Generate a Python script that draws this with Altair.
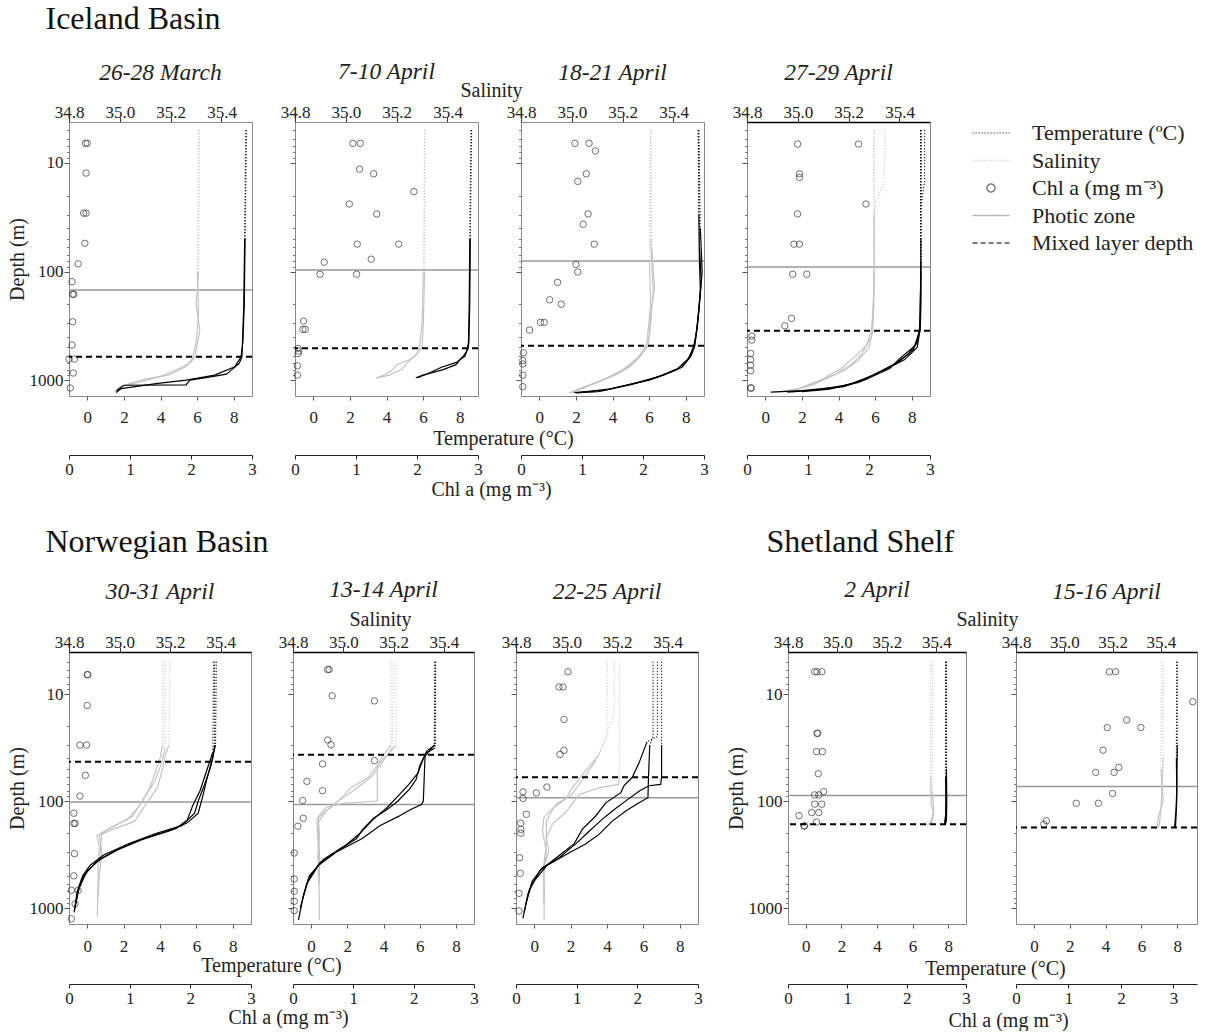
import altair as alt
import pandas as pd

FONT = "Liberation Serif"

# ---------------- data ----------------
PANEL_TITLES = ["26-28 March", "7-10 April", "18-21 April", "27-29 April",
                "30-31 April", "13-14 April", "22-25 April", "2 April", "15-16 April"]
PHOTIC = [148, 97, 80, 91, 102, 108, 93, 89, 73]
MLD = [610, 510, 483, 351, 43, 37, 60, 165, 177]

TEMP_TICKS = [0, 2, 4, 6, 8]
SAL_TICKS = [34.8, 35.0, 35.2, 35.4]
CHL_TICKS = [0, 1, 2, 3]
DEPTH_MAJOR = [10, 100, 1000]
DEPTH_MINOR = [5, 6, 7, 8, 9, 20, 30, 40, 50, 60, 70, 80, 90,
               200, 300, 400, 500, 600, 700, 800, 900]
LEGEND_ITEMS = ["Temperature (ºC)", "Salinity", "Chl a (mg m⁻³)", "Photic zone", "Mixed layer depth"]

# temperature casts: (depth m, temperature degC)
T1 = [[(5, 8.7), (50, 8.62), (200, 8.58), (450, 8.5), (610, 8.4), (754, 8.06), (900, 6.96),
       (1000, 5.41), (1072, 3.86), (1195, 1.85), (1300, 1.58)],
      [(5, 8.66), (50, 8.6), (200, 8.55), (450, 8.48), (610, 8.45), (700, 8.3), (800, 7.9),
       (880, 7.6), (950, 6.5), (1000, 5.6), (1105, 5.4), (1115, 2.0), (1250, 1.6)]]
T2 = [[(5, 8.65), (50, 8.58), (200, 8.55), (450, 8.5), (520, 8.45), (600, 8.2), (680, 7.9),
       (760, 7.0), (850, 6.4), (950, 5.7)],
      [(5, 8.62), (50, 8.55), (200, 8.52), (450, 8.48), (520, 8.4), (600, 8.3), (650, 8.0),
       (720, 7.8), (800, 7.1), (900, 6.0), (950, 5.6)]]
T3 = [[(5, 8.7), (30, 8.72), (80, 8.75), (150, 8.8), (300, 8.65), (480, 8.5), (600, 8.3),
       (760, 7.8), (900, 6.8), (1050, 5.4), (1200, 3.9), (1300, 2.1)],
      [(5, 8.72), (40, 8.8), (100, 8.9), (200, 8.75), (350, 8.6), (480, 8.45), (620, 8.2),
       (780, 7.6), (950, 6.4), (1100, 5.0), (1250, 3.5), (1300, 1.9)],
      [(5, 8.68), (60, 8.75), (120, 8.85), (250, 8.7), (400, 8.55), (500, 8.45), (650, 8.1),
       (800, 7.5), (1000, 6.0), (1150, 4.4), (1280, 3.2), (1310, 2.0)]]
T4 = [[(5, 8.5), (50, 8.5), (200, 8.5), (350, 8.45), (500, 8.3), (650, 7.6), (800, 6.5),
       (950, 5.6), (1150, 4.3), (1250, 2.0), (1290, 0.3)],
      [(5, 8.7), (15, 8.7), (25, 8.5), (100, 8.5), (350, 8.45), (480, 8.2), (620, 7.4),
       (780, 6.8), (1000, 5.4), (1200, 3.6), (1280, 1.5)],
      [(5, 8.5), (80, 8.5), (300, 8.48), (450, 8.3), (580, 7.8), (720, 7.0), (900, 5.9),
       (1100, 4.6), (1230, 2.8), (1290, 1.2)],
      [(5, 8.5), (150, 8.48), (350, 8.44), (520, 8.1), (700, 7.2), (850, 6.2), (1050, 5.1),
       (1220, 3.4), (1280, 2.0)]]
T5 = [[(5, 7.0), (30, 7.0), (40, 6.9), (50, 6.75), (70, 6.45), (100, 6.1), (130, 5.9), (170, 5.2),
       (200, 3.8), (250, 2.3), (320, 0.9), (400, 0.15), (500, -0.25), (700, -0.55), (1100, -0.72)],
      [(5, 7.1), (30, 7.05), (45, 6.8), (60, 6.6), (90, 6.35), (130, 6.1), (160, 5.5), (190, 4.5),
       (230, 3.0), (290, 1.6), (370, 0.5), (500, -0.2), (700, -0.5), (1050, -0.7)],
      [(5, 6.95), (35, 6.9), (50, 6.6), (80, 6.2), (110, 5.8), (150, 5.5), (180, 4.9), (210, 3.6),
       (260, 2.1), (340, 0.8), (450, 0.0), (650, -0.45), (1000, -0.68)]]
T6 = [[(5, 6.85), (30, 6.85), (34, 6.4), (47, 6.0), (63, 5.8), (77, 5.45), (100, 4.8), (120, 4.2),
       (145, 3.45), (180, 2.9), (225, 2.5), (280, 1.6), (375, 0.5), (540, -0.15), (760, -0.42),
       (1300, -0.7)],
      [(5, 6.88), (32, 6.85), (36, 6.3), (60, 6.25), (100, 6.2), (108, 6.1), (120, 5.5), (140, 4.8),
       (170, 3.8), (225, 2.8), (300, 1.4), (400, 0.4), (600, -0.25), (1000, -0.6)],
      [(5, 6.85), (30, 6.8), (40, 6.2), (55, 5.9), (70, 5.4), (90, 4.8), (115, 4.2), (150, 3.4),
       (200, 2.7), (260, 1.9), (350, 0.7), (500, -0.1), (800, -0.45)]]
T7 = [[(5, 7.0), (30, 7.0), (60, 7.0), (70, 6.95), (72, 6.3), (80, 5.8), (95, 5.2), (120, 4.4),
       (150, 3.7), (200, 2.9), (250, 2.3), (340, 1.35), (420, 0.45), (560, -0.1), (780, -0.37),
       (1250, -0.62)],
      [(5, 6.53), (25, 6.53), (30, 6.35), (60, 6.28), (93, 6.25), (104, 5.76), (124, 5.03),
       (154, 4.29), (205, 3.56), (254, 2.8), (300, 2.0), (400, 0.7), (600, -0.15), (900, -0.45)],
      [(5, 6.77), (25, 6.77), (28, 6.2), (44, 5.76), (60, 5.39), (72, 4.93), (84, 4.75), (104, 3.93),
       (138, 3.38), (184, 2.64), (250, 2.2), (330, 1.3), (450, 0.3), (700, -0.3), (1100, -0.55)]]
T8 = [[(5, 7.9), (50, 7.9), (100, 7.92), (150, 7.9), (165, 7.85)],
      [(5, 7.85), (60, 7.85), (120, 7.88), (160, 7.82), (168, 7.8)],
      [(5, 7.88), (80, 7.9), (140, 7.85), (165, 7.8)]]
T9 = [[(5, 8.0), (30, 8.0), (60, 7.98), (100, 7.97), (150, 7.92), (177, 7.9)],
      [(5, 7.97), (40, 7.95), (80, 7.97), (120, 7.93), (175, 7.85)]]

# salinity casts: (depth m, salinity)
S1 = [[(5, 35.313), (100, 35.31), (200, 35.30), (350, 35.315), (610, 35.295), (680, 35.28),
       (770, 35.24), (925, 35.16), (1040, 35.08), (1150, 35.0), (1280, 34.98)],
      [(5, 35.31), (100, 35.305), (250, 35.31), (450, 35.30), (640, 35.285), (754, 35.26),
       (900, 35.19), (980, 35.10), (1072, 35.04), (1195, 34.99)]]
S2 = [[(5, 35.31), (100, 35.31), (300, 35.305), (500, 35.30), (600, 35.27), (700, 35.24),
       (800, 35.22), (900, 35.17), (960, 35.12)],
      [(5, 35.31), (100, 35.305), (300, 35.30), (500, 35.29), (580, 35.28), (650, 35.25),
       (720, 35.20), (820, 35.18), (900, 35.15), (950, 35.12)]]
S3 = [[(5, 35.31), (50, 35.31), (150, 35.32), (300, 35.31), (480, 35.30), (600, 35.27),
       (750, 35.23), (900, 35.17), (1050, 35.10), (1200, 35.03), (1300, 35.0)],
      [(5, 35.31), (60, 35.315), (140, 35.325), (250, 35.31), (400, 35.305), (550, 35.28),
       (700, 35.24), (850, 35.19), (1000, 35.12), (1150, 35.05), (1290, 35.0)],
      [(5, 35.31), (80, 35.305), (200, 35.31), (350, 35.30), (480, 35.295), (620, 35.26),
       (800, 35.20), (950, 35.14), (1100, 35.08), (1250, 35.02), (1310, 34.99)]]
S4 = [[(5, 35.30), (100, 35.30), (350, 35.295), (500, 35.28), (650, 35.24), (800, 35.19),
       (950, 35.12), (1150, 35.03), (1280, 34.95)],
      [(5, 35.343), (15, 35.34), (22, 35.31), (30, 35.30), (150, 35.30), (350, 35.29), (480, 35.27),
       (620, 35.22), (780, 35.17), (1000, 35.09), (1200, 35.0), (1290, 34.92)],
      [(5, 35.30), (200, 35.30), (400, 35.29), (580, 35.25), (720, 35.21), (900, 35.14),
       (1100, 35.06), (1270, 34.97)]]
S5 = [[(5, 35.17), (30, 35.17), (40, 35.16), (55, 35.14), (75, 35.12), (110, 35.08), (150, 35.03),
       (180, 34.96), (210, 34.91), (270, 34.92), (400, 34.915), (600, 34.915), (1200, 34.912)],
      [(5, 35.20), (30, 35.195), (38, 35.18), (50, 35.17), (75, 35.15), (110, 35.10), (155, 35.06),
       (185, 34.97), (210, 34.92), (300, 34.93), (500, 34.92), (800, 34.915)],
      [(5, 35.18), (32, 35.18), (45, 35.165), (65, 35.14), (100, 35.09), (140, 35.05), (170, 34.98),
       (200, 34.93), (260, 34.925), (380, 34.92)]]
S6 = [[(5, 35.21), (30, 35.21), (36, 35.18), (45, 35.14), (60, 35.10), (75, 35.03), (90, 35.0),
       (110, 34.96), (130, 34.92), (150, 34.895), (250, 34.90), (400, 34.90), (800, 34.905),
       (1300, 34.905)],
      [(5, 35.19), (30, 35.19), (40, 35.15), (48, 35.135), (100, 35.135), (105, 35.0), (115, 34.93),
       (140, 34.90), (200, 34.905), (350, 34.90)],
      [(5, 35.20), (32, 35.195), (42, 35.16), (60, 35.11), (80, 35.04), (100, 34.98), (125, 34.93),
       (160, 34.90), (300, 34.905), (600, 34.905)]]
S7 = [[(5, 35.209), (60, 35.209), (70, 35.205), (75, 35.13), (87, 35.05), (124, 35.0), (165, 34.944),
       (220, 34.92), (300, 34.93), (400, 34.91), (700, 34.912), (1300, 34.911)],
      [(5, 35.161), (25, 35.16), (37, 35.128), (52, 35.076), (75, 35.023), (93, 35.0), (107, 34.96),
       (143, 34.91), (190, 34.905), (300, 34.92), (500, 34.91), (900, 34.91)],
      [(5, 35.188), (15, 35.188), (20, 35.17), (27, 35.15), (42, 35.115), (65, 35.06), (87, 35.02),
       (115, 34.95), (154, 34.92), (250, 34.92), (400, 34.91)]]
S8 = [[(5, 35.376), (60, 35.377), (110, 35.38), (130, 35.39), (160, 35.38), (168, 35.36)],
      [(5, 35.385), (80, 35.383), (120, 35.39), (150, 35.38), (165, 35.37)]]
S9 = [[(5, 35.41), (40, 35.41), (80, 35.405), (120, 35.40), (160, 35.395), (177, 35.39)],
      [(5, 35.405), (50, 35.40), (100, 35.41), (140, 35.39), (175, 35.385)]]

# chlorophyll samples: (depth m, Chl a mg m-3)
C1 = [(6.6, 0.27), (6.6, 0.30), (12.4, 0.28), (29, 0.24), (29, 0.28), (55, 0.26), (85, 0.15),
      (124, 0.05), (162, 0.06), (162, 0.08), (290, 0.06), (475, 0.05), (640, 0.0), (640, 0.09),
      (860, 0.07), (1180, 0.02)]
C2 = [(6.6, 0.95), (6.6, 1.07), (11.4, 1.06), (12.6, 1.29), (18.4, 1.95), (23.9, 0.89), (29.5, 1.34),
      (56, 1.02), (56, 1.70), (77, 1.25), (82, 0.48), (106, 0.41), (106, 1.01), (286, 0.14),
      (341, 0.13), (341, 0.17), (510, 0.05), (540, 0.06), (568, 0.05), (738, 0.04), (900, 0.04)]
C3 = [(6.6, 0.885), (6.6, 1.115), (7.75, 1.22), (12.6, 1.07), (14.8, 0.93), (29.5, 1.10), (36.7, 1.02),
      (56, 1.20), (86, 0.90), (101, 0.93), (126, 0.60), (182, 0.47), (200, 0.66), (294, 0.32),
      (294, 0.38), (346, 0.14), (560, 0.04), (660, 0.03), (710, 0.03), (900, 0.03), (1150, 0.03)]
C4 = [(6.7, 0.83), (6.7, 1.83), (12.6, 0.86), (13.6, 0.86), (23.9, 1.95), (29.5, 0.83), (56, 0.77),
      (56, 0.86), (106, 0.75), (106, 0.98), (270, 0.73), (316, 0.62), (393, 0.08), (428, 0.08),
      (568, 0.06), (646, 0.06), (728, 0.06), (821, 0.06), (1174, 0.06), (1190, 0.07)]
C5 = [(6.6, 0.30), (6.6, 0.31), (12.8, 0.30), (30, 0.18), (30, 0.29), (57.5, 0.27), (90, 0.18),
      (130, 0.08), (162, 0.08), (162, 0.10), (310, 0.09), (500, 0.08), (683, 0.04), (683, 0.15),
      (913, 0.10), (1260, 0.04)]
C6 = [(5.9, 0.575), (5.9, 0.60), (10.4, 0.65), (11.6, 1.35), (26.9, 0.575), (29.8, 0.63), (42, 1.35),
      (45, 0.49), (65.5, 0.23), (80, 0.49), (99, 0.16), (145, 0.17), (172, 0.08), (306, 0.02),
      (536, 0.02), (698, 0.02), (866, 0.02), (1060, 0.02)]
C7 = [(6.2, 0.857), (8.6, 0.71), (8.6, 0.775), (17.3, 0.79), (33.6, 0.79), (36.7, 0.725), (74, 0.51),
      (84, 0.335), (82, 0.115), (94.5, 0.115), (133, 0.17), (161, 0.077), (184, 0.08), (200, 0.08),
      (339, 0.06), (474, 0.07), (729, 0.05), (1067, 0.05)]
C8 = [(6.2, 0.45), (6.2, 0.49), (6.2, 0.57), (23.3, 0.49), (23.3, 0.50), (34.5, 0.48), (34.5, 0.58),
      (55.6, 0.51), (81.6, 0.60), (87.7, 0.45), (87.7, 0.52), (107, 0.45), (107, 0.57), (128, 0.40),
      (128, 0.52), (137, 0.185), (157, 0.48), (171, 0.27), (171, 0.28)]
C9 = [(6.2, 1.78), (6.2, 1.90), (11.8, 3.37), (17.5, 2.11), (20.6, 1.74), (20.6, 2.38), (33.5, 1.66),
      (48.5, 1.96), (54, 1.52), (54, 1.87), (85, 1.84), (105, 1.15), (105, 1.57), (153, 0.58),
      (165, 0.53)]

TEMPS = [T1, T2, T3, T4, T5, T6, T7, T8, T9]
SALS = [S1, S2, S3, S4, S5, S6, S7, S8, S9]
CHLS = [C1, C2, C3, C4, C5, C6, C7, C8, C9]

# axis ranges (per panel)
DEPTH_DOMAINS = [[4.2, 1400]] * 4 + [[4.05, 1410]] * 5
T_DOM = [[-1, 9]] * 8 + [[-1, 9.1]]
S_DOM = [[34.8, 35.52]] * 8 + [[34.8, 35.55]]
C_DOM = [[0, 3]] * 8 + [[0, 3.45]]

# ---------------- layout / style ----------------
PANEL_W = [183, 183, 183, 183, 182, 181, 182, 178, 181]
PANEL_H = [274, 274, 274, 274, 272, 272, 272, 272, 272]
TITLE_OFFSET = [19, -3, 19, 19, 30, 8, 30, 8, 30]
SHOW_Y = [True, False, False, False, True, False, False, True, False]
SAL_DOMAIN_COLOR = ["#888", "#888", "#888", "black", "black", "black", "black", "black", "black"]
CHL_OFFSET = [59, 59, 59, 59, 60, 60, 60, 60, 60]
TEMP_LABEL_PAD = [22, 22, 22, 22, 23, 23, 23, 23, 23]
# axis titles: panel index -> (titleX, titleY)
TEMP_TITLE = {1: (208, 48), 4: (202, 47), 7: (207, 50)}
SAL_TITLE = {1: (196, -26), 5: (87, -27), 7: (199, -27)}
CHL_TITLE = {1: (196, 40), 4: (219, 39), 7: (220, 42)}

LINE_SYMBOL = "M-4.6,0L4.6,0"
LEGEND_SHAPES = [LINE_SYMBOL, LINE_SYMBOL, "circle", LINE_SYMBOL, LINE_SYMBOL]
LEGEND_COLORS = ["black", "#b5b5b5", "#444444", "#999999", "black"]
LEGEND_DASHES = [[1, 2], [1, 2], [1, 0], [1, 0], [5, 3]]


def cast_frames(casts, cut=28):
    top, bot = [], []
    for ci, cast in enumerate(casts):
        k = next((j for j, (d, _) in enumerate(cast) if d >= cut), len(cast) - 1)
        top += [{"cast": ci, "depth": d, "value": v} for d, v in cast[:k + 1]]
        bot += [{"cast": ci, "depth": d, "value": v} for d, v in cast[k:]]
    return pd.DataFrame(top), pd.DataFrame(bot)


def legend_layer():
    props = dict(title=None, orient="right", offset=50, labelFont=FONT, labelFontSize=22,
                 labelOffset=30, symbolSize=64, symbolStrokeWidth=1.5, rowPadding=5.5,
                 labelLimit=400, padding=0, labelColor="#222")
    return alt.Chart(pd.DataFrame({"item": LEGEND_ITEMS})).transform_filter("false").mark_point(
        filled=False, size=64, strokeWidth=1.5
    ).encode(
        shape=alt.Shape("item:N", scale=alt.Scale(domain=LEGEND_ITEMS, range=LEGEND_SHAPES),
                        legend=alt.Legend(**props)),
        stroke=alt.Stroke("item:N", scale=alt.Scale(domain=LEGEND_ITEMS, range=LEGEND_COLORS),
                          legend=alt.Legend(**props)),
        strokeDash=alt.StrokeDash("item:N", scale=alt.Scale(domain=LEGEND_ITEMS, range=LEGEND_DASHES),
                                  legend=alt.Legend(**props)),
    )


def title_kw(d, i):
    if i in d:
        tx, ty = d[i]
        return dict(titleX=tx, titleY=ty, titleAlign="center", titleBaseline="alphabetic")
    return {}


def make_panel(i, with_legend=False):
    yscale = alt.Scale(type="log", domain=DEPTH_DOMAINS[i], reverse=True, nice=False)
    tscale = alt.Scale(domain=T_DOM[i], nice=False, zero=False)
    sscale = alt.Scale(domain=S_DOM[i], nice=False, zero=False)
    cscale = alt.Scale(domain=C_DOM[i], nice=False, zero=False)
    t_top, t_bot = cast_frames(TEMPS[i])
    s_top, s_bot = cast_frames(SALS[i])
    chl = pd.DataFrame(CHLS[i], columns=["depth", "chl"])

    ykw = dict(orient="left", values=DEPTH_MAJOR, format="d", tickSize=5, labelPadding=1,
               domain=False, grid=False, labelOverlap=False, tickColor="#555")
    if SHOW_Y[i]:
        y_major = alt.Axis(title="Depth (m)", titlePadding=2, **ykw)
    else:
        y_major = alt.Axis(title=None, labels=False, **ykw)
    y_minor = alt.Axis(orient="left", values=DEPTH_MINOR, labels=False, tickSize=2.5,
                       domain=False, grid=False, title=None, tickColor="#777")

    t_axis = alt.Axis(orient="bottom", values=TEMP_TICKS, format="d", tickSize=4,
                      labelPadding=TEMP_LABEL_PAD[i],
                      labelBaseline="alphabetic", domainColor="#888", tickColor="#555",
                      labelFlush=False, grid=False, labelOverlap=False,
                      title="Temperature (°C)" if i in TEMP_TITLE else None,
                      **title_kw(TEMP_TITLE, i))
    s_axis = alt.Axis(orient="top", values=SAL_TICKS, format=".1f", tickSize=5, labelPadding=0,
                      labelBaseline="alphabetic", domainColor=SAL_DOMAIN_COLOR[i],
                      domainWidth=1.5 if i >= 3 else 1, tickColor="#333",
                      labelFlush=False, grid=False, labelOverlap=False,
                      title="Salinity" if i in SAL_TITLE else None,
                      **title_kw(SAL_TITLE, i))
    c_axis = alt.Axis(orient="bottom", offset=CHL_OFFSET[i], values=CHL_TICKS, format="d",
                      tickSize=4, labelPadding=15, labelBaseline="alphabetic",
                      domainColor="#222", tickColor="#222", labelFlush=False, grid=False,
                      labelOverlap=False,
                      title="Chl a  (mg m⁻³)" if i in CHL_TITLE else None,
                      **title_kw(CHL_TITLE, i))

    photic = alt.Chart(pd.DataFrame({"depth": [PHOTIC[i]]})).mark_rule(
        color="#999", strokeWidth=1.5).encode(y=alt.Y("depth:Q", scale=yscale, axis=y_minor))
    sal_t = alt.Chart(s_top).mark_line(color="#c4c4c4", strokeWidth=1.2, strokeDash=[1, 2]).encode(
        x=alt.X("value:Q", scale=sscale, axis=None),
        y=alt.Y("depth:Q", scale=yscale, axis=None),
        detail="cast:N", order="depth:Q")
    sal_b = alt.Chart(s_bot).mark_line(color="#c4c4c4", strokeWidth=1.2).encode(
        x=alt.X("value:Q", scale=sscale, axis=s_axis),
        y=alt.Y("depth:Q", scale=yscale, axis=None),
        detail="cast:N", order="depth:Q")
    tmp_t = alt.Chart(t_top).mark_line(color="black", strokeWidth=1.2, strokeDash=[1, 2]).encode(
        x=alt.X("value:Q", scale=tscale, axis=None),
        y=alt.Y("depth:Q", scale=yscale, axis=None),
        detail="cast:N", order="depth:Q")
    tmp_b = alt.Chart(t_bot).mark_line(color="black", strokeWidth=1.2).encode(
        x=alt.X("value:Q", scale=tscale, axis=t_axis),
        y=alt.Y("depth:Q", scale=yscale, axis=y_major),
        detail="cast:N", order="depth:Q")
    chl_pts = alt.Chart(chl).mark_point(shape="circle", filled=False, size=42, color="#333",
                                        strokeWidth=1).encode(
        x=alt.X("chl:Q", scale=cscale, axis=c_axis),
        y=alt.Y("depth:Q", scale=yscale, axis=None))
    mld = alt.Chart(pd.DataFrame({"depth": [MLD[i]]})).mark_rule(
        color="black", strokeWidth=2, strokeDash=[6, 4]).encode(
        y=alt.Y("depth:Q", scale=yscale, axis=None))

    layers = [photic, sal_t, sal_b, tmp_t, tmp_b, chl_pts, mld]
    if with_legend:
        layers.append(legend_layer())
    return alt.layer(*layers).resolve_scale(x="independent").resolve_axis(
        x="independent", y="independent").properties(
        width=PANEL_W[i], height=PANEL_H[i],
        title=alt.TitleParams(PANEL_TITLES[i], font=FONT, fontSize=23.5, fontStyle="italic",
                              fontWeight="normal", offset=TITLE_OFFSET[i], color="#222"))


def group_title(text, dx, offset):
    return alt.TitleParams(text, anchor="start", font=FONT, fontSize=32, fontWeight="normal",
                           dx=dx, offset=offset, color="#111")


IND = dict(shape="independent", stroke="independent", strokeDash="independent")

row1 = alt.hconcat(make_panel(0), make_panel(1), make_panel(2), make_panel(3, with_legend=True),
                   spacing=43, bounds="flush",
                   title=group_title("Iceland Basin", 39, 23)).resolve_scale(**IND).resolve_legend(**IND)
norw = alt.hconcat(make_panel(4), make_panel(5), make_panel(6), spacing=42, bounds="flush",
                   title=group_title("Norwegian Basin", 39, 18))
shet = alt.hconcat(make_panel(7), make_panel(8), spacing=50, bounds="flush",
                   title=group_title("Shetland Shelf", 41, 18))
row2 = alt.hconcat(norw, shet, spacing=22)

chart = alt.vconcat(row1, row2, spacing=26).resolve_scale(**IND).resolve_legend(**IND).properties(
    padding={"left": 6, "top": 3, "right": 0, "bottom": 0}
).configure_view(stroke="#888", strokeWidth=1).configure_axis(
    labelFont=FONT, titleFont=FONT, labelFontSize=17, titleFontSize=20, titleFontWeight="normal",
    labelColor="#222", titleColor="#222", grid=False
).configure_title(font=FONT)

chart.save("out.html", embed_options={"renderer": "svg", "actions": False})
